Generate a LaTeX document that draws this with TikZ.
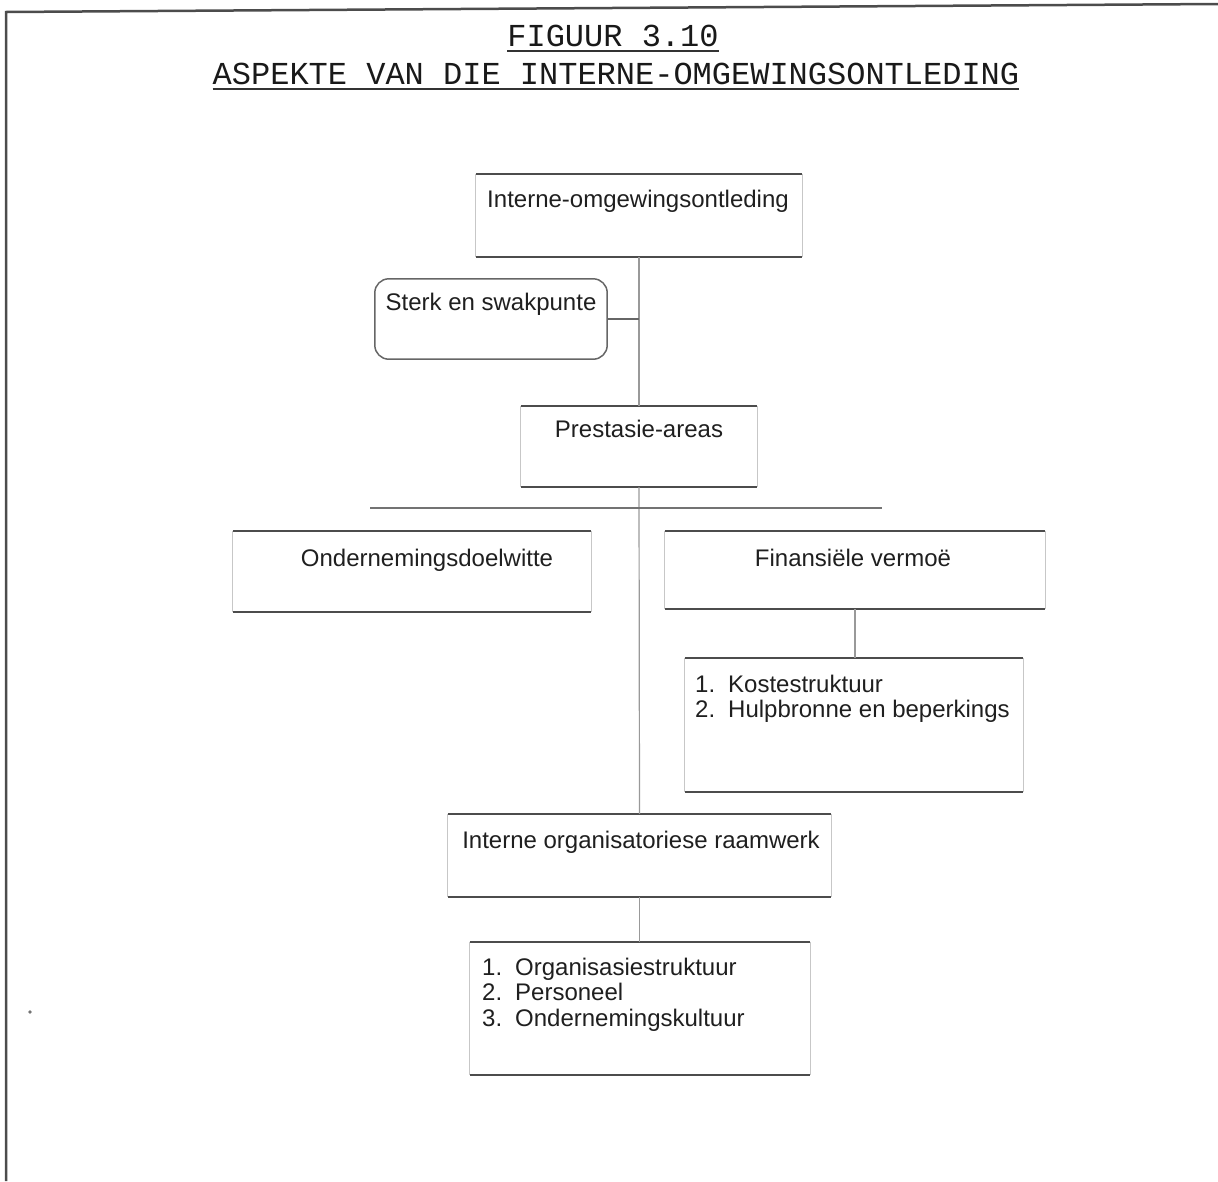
\documentclass[tikz,border=0pt]{standalone}
\usepackage{fontspec}
\setmainfont{Liberation Sans}
\newfontfamily\typewriterfont{Liberation Mono}

% draws a panel: strong top and bottom rules, faint sides
\newcommand\drawpanel[1]{%
  \draw[hrule] (#1.north west) -- (#1.north east);
  \draw[hrule] (#1.south west) -- (#1.south east);
  \draw[vrule] (#1.north west) -- (#1.south west);
  \draw[vrule] (#1.north east) -- (#1.south east);
}

\begin{document}
\begin{tikzpicture}[x=1pt,y=-1pt,
  heading/.style={font=\typewriterfont\fontsize{32}{36}\selectfont, text=black!90, inner sep=0pt, anchor=base},
  label/.style={font=\fontsize{24}{25}\selectfont, text=black!88, inner sep=0pt, anchor=base},
  listlabel/.style={font=\fontsize{24}{25.5}\selectfont, text=black!88, inner sep=0pt, anchor=base west},
  panel/.style={draw=none, inner sep=0pt, rectangle},
  hrule/.style={draw=black!70, line width=1.8pt},
  vrule/.style={draw=black!22, line width=1pt},
  conn/.style={draw=black!40, line width=1.2pt},
  frame/.style={draw=black!70, line width=2.5pt},
  underline/.style={draw=black!80, line width=1.8pt}
]
\useasboundingbox (0,0) rectangle (1218,1181);

% outer frame (left and top edges)
\coordinate (fTL) at (6,12);
\coordinate (fBL) at (6,1181);
\coordinate (fTR) at (1218,4);
\draw[frame] (fBL) -- (fTL) -- (fTR);

% headings
\node[heading] (t1) at (613,46) {FIGUUR 3.10};
\node[heading] (t2) at (616,84) {ASPEKTE VAN DIE INTERNE-OMGEWINGSONTLEDING};
\draw[underline] ([yshift=-5pt]t1.base west) -- ([yshift=-5pt]t1.base east);
\draw[underline] ([yshift=-5pt]t2.base west) -- ([yshift=-5pt]t2.base east);

% panels
\node[panel, minimum width=326pt, minimum height=83pt] (ext) at (639,215.5) {};
\node[panel, minimum width=236pt, minimum height=81pt] (pre) at (639,446.5) {};
\node[panel, minimum width=358pt, minimum height=81pt] (ond) at (412,571.5) {};
\node[panel, minimum width=380pt, minimum height=78pt] (fin) at (855,570) {};
\node[panel, minimum width=338pt, minimum height=134pt] (kos) at (854,725) {};
\node[panel, minimum width=383pt, minimum height=83pt] (ior) at (639.5,855.5) {};
\node[panel, minimum width=340pt, minimum height=133pt] (lst) at (640,1008.5) {};
\node[panel, minimum width=232pt, minimum height=80pt] (stk) at (491,319) {};

\drawpanel{ext}
\drawpanel{pre}
\drawpanel{ond}
\drawpanel{fin}
\drawpanel{kos}
\drawpanel{ior}
\drawpanel{lst}
\draw[draw=black!60, line width=1.5pt, rounded corners=14pt]
  (stk.north west) rectangle (stk.south east);

% labels
\node[label] (extT) at (638,207) {Interne-omgewingsontleding};
\node[label] (stkT) at (491,310) {Sterk en swakpunte};
\node[label] (preT) at (639,437) {Prestasie-areas};
\node[label] (ondT) at (427,566) {Ondernemingsdoelwitte};
\node[label] (finT) at (853,566) {Finansiële vermoë};
\node[listlabel] (kosT) at (695,692) {\begin{tabular}[t]{@{}l@{\hspace{13pt}}l@{}}1. & Kostestruktuur\\ 2. & Hulpbronne en beperkings\end{tabular}};
\node[label] (iorT) at (641,848) {Interne organisatoriese raamwerk};
\node[listlabel] (lstT) at (482,975) {\begin{tabular}[t]{@{}l@{\hspace{13pt}}l@{}}1. & Organisasiestruktuur\\ 2. & Personeel\\ 3. & Ondernemingskultuur\end{tabular}};

% connectors
\draw[conn] (ext.south) -- (pre.north);
\draw[draw=black!60, line width=1.5pt] (stk.east) -- (stk.east -| ext.south);
\draw[conn] (pre.south) -- (ior.north);
\coordinate (barL) at (370,508);
\coordinate (barR) at (882,508);
\draw[draw=black!55, line width=1.4pt] (barL) -- (barR);
\draw[conn] (fin.south) -- (fin.south |- kos.north);
\draw[conn] (ior.south) -- (ior.south |- lst.north);

% small mark in the left margin
\fill[black!55] (30,1012) circle (1.8pt);
\end{tikzpicture}
\end{document}
